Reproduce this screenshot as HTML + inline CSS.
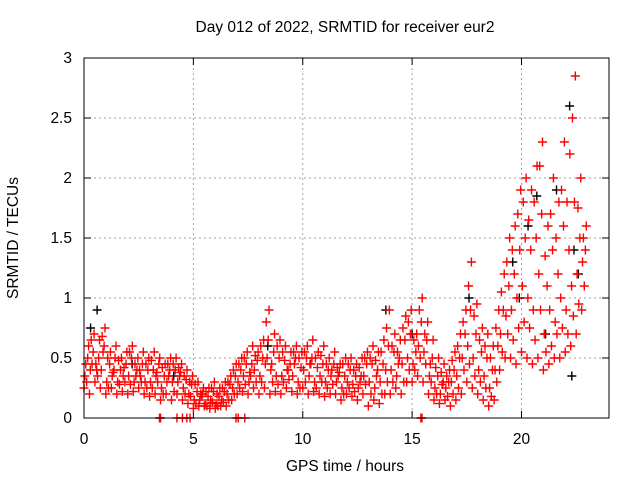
<!DOCTYPE html>
<html><head><meta charset="utf-8"><style>
html,body{margin:0;padding:0;background:#fff;}
svg{display:block;font-family:"Liberation Sans",sans-serif;}
</style></head><body>
<svg id="chart" width="640" height="480">
<text x="345" y="32" font-size="15.5" text-anchor="middle" fill="#000">Day 012 of 2022, SRMTID for receiver eur2</text>
<text x="345" y="471" font-size="15.5" text-anchor="middle" fill="#000">GPS time / hours</text>
<text x="18" y="238" font-size="15.5" text-anchor="middle" fill="#000" transform="rotate(-90 18 238)">SRMTID / TECUs</text>
<g id="grid"></g>
<g id="ticks"></g>
<g id="marks"></g>
<rect x="84" y="58" width="525" height="360" fill="none" stroke="#000" stroke-width="1"/>
</svg>
<script>
const xTicks=[0,5,10,15,20];
const yTicks=[0,0.5,1,1.5,2,2.5,3];
const yTickLabels=["0","0.5","1","1.5","2","2.5","3"];
const binStart=0, binStep=0.25;
const lowVals=[.25,.2,.3,.25,.2,.25,.2,.22,.2,.22,.25,.2,.18,.2,.15,.2,.15,.2,.15,.12,.08,.1,.1,.08,.08,.1,.1,.15,.2,.22,.2,.25,.2,.25,.2,.22,.2,.25,.22,.2,.25,.2,.22,.2,.18,.2,.2,.15,.2,.18,.15,.2,.1,.15,.12,.2,.2,.25,.2,.3,.3,.35,.3,.2,.15,.12,.15,.1,.15,.2,.3,.25,.2,.15,.1,.15,.4,.5,.5,.45,.55,.5,.45,.5,.4,.45,.5,.5,.55,.6,.7,.9];
const lowMidVals=[.3,.45,.35,.55,.25,.4,.28,.3,.28,.35,.3,.25,.25,.3,.2,.35,.22,.35,.2,.18,.12,.18,.1,.13,.1,.13,.15,.2,.25,.28,.35,.3,.3,.5,.3,.28,.3,.32,.45,.25,.3,.45,.25,.3,.25,.28,.35,.2,.25,.22,.3,.28,.2,.35,.2,.3,.3,.45,.3,.4,.4,.5,.45,.3,.2,.28,.18,.2,.25,.4,.45,.35,.3,.25,.18,.3,.55,.7,.65,.75,.8,.75,.65,.9,.55,.6,.7,.75,.7,.85,.95,1.1];
const midVals=[.35,.4,.45,.4,.3,.35,.3,.35,.35,.3,.4,.3,.3,.35,.25,.3,.3,.3,.25,.2,.15,.15,.12,.15,.12,.15,.2,.25,.3,.35,.3,.4,.35,.45,.4,.35,.35,.4,.35,.3,.4,.35,.3,.35,.3,.35,.3,.25,.3,.28,.25,.35,.3,.25,.3,.4,.4,.35,.45,.5,.45,.6,.55,.35,.25,.2,.25,.3,.35,.5,.6,.5,.4,.35,.25,.4,.7,.85,.9,1.0,1.1,1.0,.9,1.2,.7,.9,.8,1.0,.9,1.1,1.2,1.3];
const upperVals=[.5,.55,.5,.6,.45,.5,.4,.45,.5,.4,.45,.4,.4,.45,.35,.4,.4,.38,.32,.28,.22,.2,.18,.22,.18,.22,.28,.35,.4,.45,.45,.48,.5,.65,.55,.5,.48,.45,.5,.42,.5,.5,.42,.45,.4,.45,.38,.35,.4,.35,.35,.45,.45,.4,.45,.6,.55,.5,.65,.7,.55,.8,.65,.5,.35,.3,.3,.4,.5,.7,.9,.7,.55,.5,.4,.6,.9,1.1,1.2,1.4,1.5,1.4,1.5,1.7,1.1,1.4,1.2,1.6,1.4,1.8,1.5,1.4];
const upperHighVals=[.45,.65,.4,.68,.5,.38,.48,.42,.55,.45,.35,.45,.48,.38,.42,.45,.45,.42,.35,.3,.28,.2,.22,.25,.2,.25,.3,.4,.45,.5,.38,.52,.6,.8,.45,.6,.55,.4,.55,.5,.55,.45,.5,.52,.45,.4,.42,.45,.45,.4,.42,.5,.5,.48,.55,.75,.6,.55,.75,.8,.65,.9,.7,.45,.42,.38,.35,.48,.6,.8,1.1,.85,.65,.6,.5,.75,1.05,1.3,1.4,1.7,1.8,1.65,1.8,2.1,1.35,1.7,1.5,1.9,1.8,2.5,1.75,1.5];
const highVals=[.6,.7,.65,.75,.55,.6,.5,.55,.6,.5,.55,.5,.55,.5,.45,.5,.5,.45,.4,.35,.3,.25,.25,.3,.25,.3,.35,.45,.5,.55,.6,.55,.65,.9,.7,.65,.6,.55,.6,.55,.6,.65,.55,.6,.5,.55,.45,.5,.5,.45,.5,.55,.6,.55,.65,.9,.7,.65,.85,.9,.7,1.0,.8,.65,.5,.45,.4,.55,.7,.9,1.3,.95,.75,.7,.6,.9,1.2,1.5,1.6,1.9,2.0,1.9,2.1,2.3,1.6,2.0,1.8,2.3,2.2,2.85,2.0,1.6];
const zeroTimes=[3.45,3.5,4.25,4.5,4.7,4.85,6.95,7.05,7.35,15.4,15.45];
const blackTimes=[0.3,0.6,2.2,4.1,8.4,13.8,15.0,17.6,19.6,20.3,20.7,21.6,22.2,22.4,22.6,21.1,19.9,22.3];
const blackVals=[0.75,0.9,0.45,0.35,0.6,0.9,0.7,1.0,1.3,1.6,1.85,1.9,2.6,1.4,1.2,0.7,1.0,0.35];

const X=t=>84+t*21.875, Y=v=>418-v*120;
const NS="http://www.w3.org/2000/svg";
const grid=document.getElementById('grid'), ticks=document.getElementById('ticks'), marks=document.getElementById('marks');
function line(g,x1,y1,x2,y2,st,dash){const l=document.createElementNS(NS,'line');l.setAttribute('x1',x1);l.setAttribute('y1',y1);l.setAttribute('x2',x2);l.setAttribute('y2',y2);l.setAttribute('stroke',st);if(dash)l.setAttribute('stroke-dasharray',dash);g.appendChild(l);return l;}
function txt(g,x,y,s,anchor){const t=document.createElementNS(NS,'text');t.setAttribute('x',x);t.setAttribute('y',y);t.setAttribute('font-size','15.5');t.setAttribute('text-anchor',anchor);t.textContent=s;g.appendChild(t);return t;}
xTicks.forEach(v=>{const x=X(v);
 if(v>0){const gl=line(grid,x,58,x,418,'#a0a0a0','2,3');}
 line(ticks,x,418,x,411,'#000');line(ticks,x,58,x,65,'#000');
 const t=txt(ticks,x,444,String(v),'middle');
 
 });
yTicks.forEach((v,i)=>{const y=Y(v);
 if(v>0&&v<3){const gl=line(grid,84,y,609,y,'#a0a0a0','2,3');}
 line(ticks,84,y,91,y,'#000');line(ticks,609,y,602,y,'#000');
 const t=txt(ticks,72,y+5,yTickLabels[i],'end');
 
 });
function plus(t,v,col,name){const x=X(t),y=Y(v);const p=document.createElementNS(NS,'path');
 p.setAttribute('d',`M${x-4.5},${y}H${x+4.5}M${x},${y-4.5}V${y+4.5}`);p.setAttribute('stroke',col);p.setAttribute('stroke-width','1.4');p.setAttribute('fill','none');
 
 
 marks.appendChild(p);}
blackTimes.forEach((t,i)=>plus(t,blackVals[i],'#000','black-point'));
const seriesOffsets=[0,0.12,0.04,0.17,0.08,0.21];
[lowVals,lowMidVals,midVals,upperVals,upperHighVals,highVals].forEach((arr,k)=>{
 arr.forEach((v,i)=>{const t=binStart+i*binStep+seriesOffsets[k];plus(t,v,'#f00','red-point');});
});
zeroTimes.forEach(t=>plus(t,0,'#f00','zero-point'));
</script>
</body></html>
